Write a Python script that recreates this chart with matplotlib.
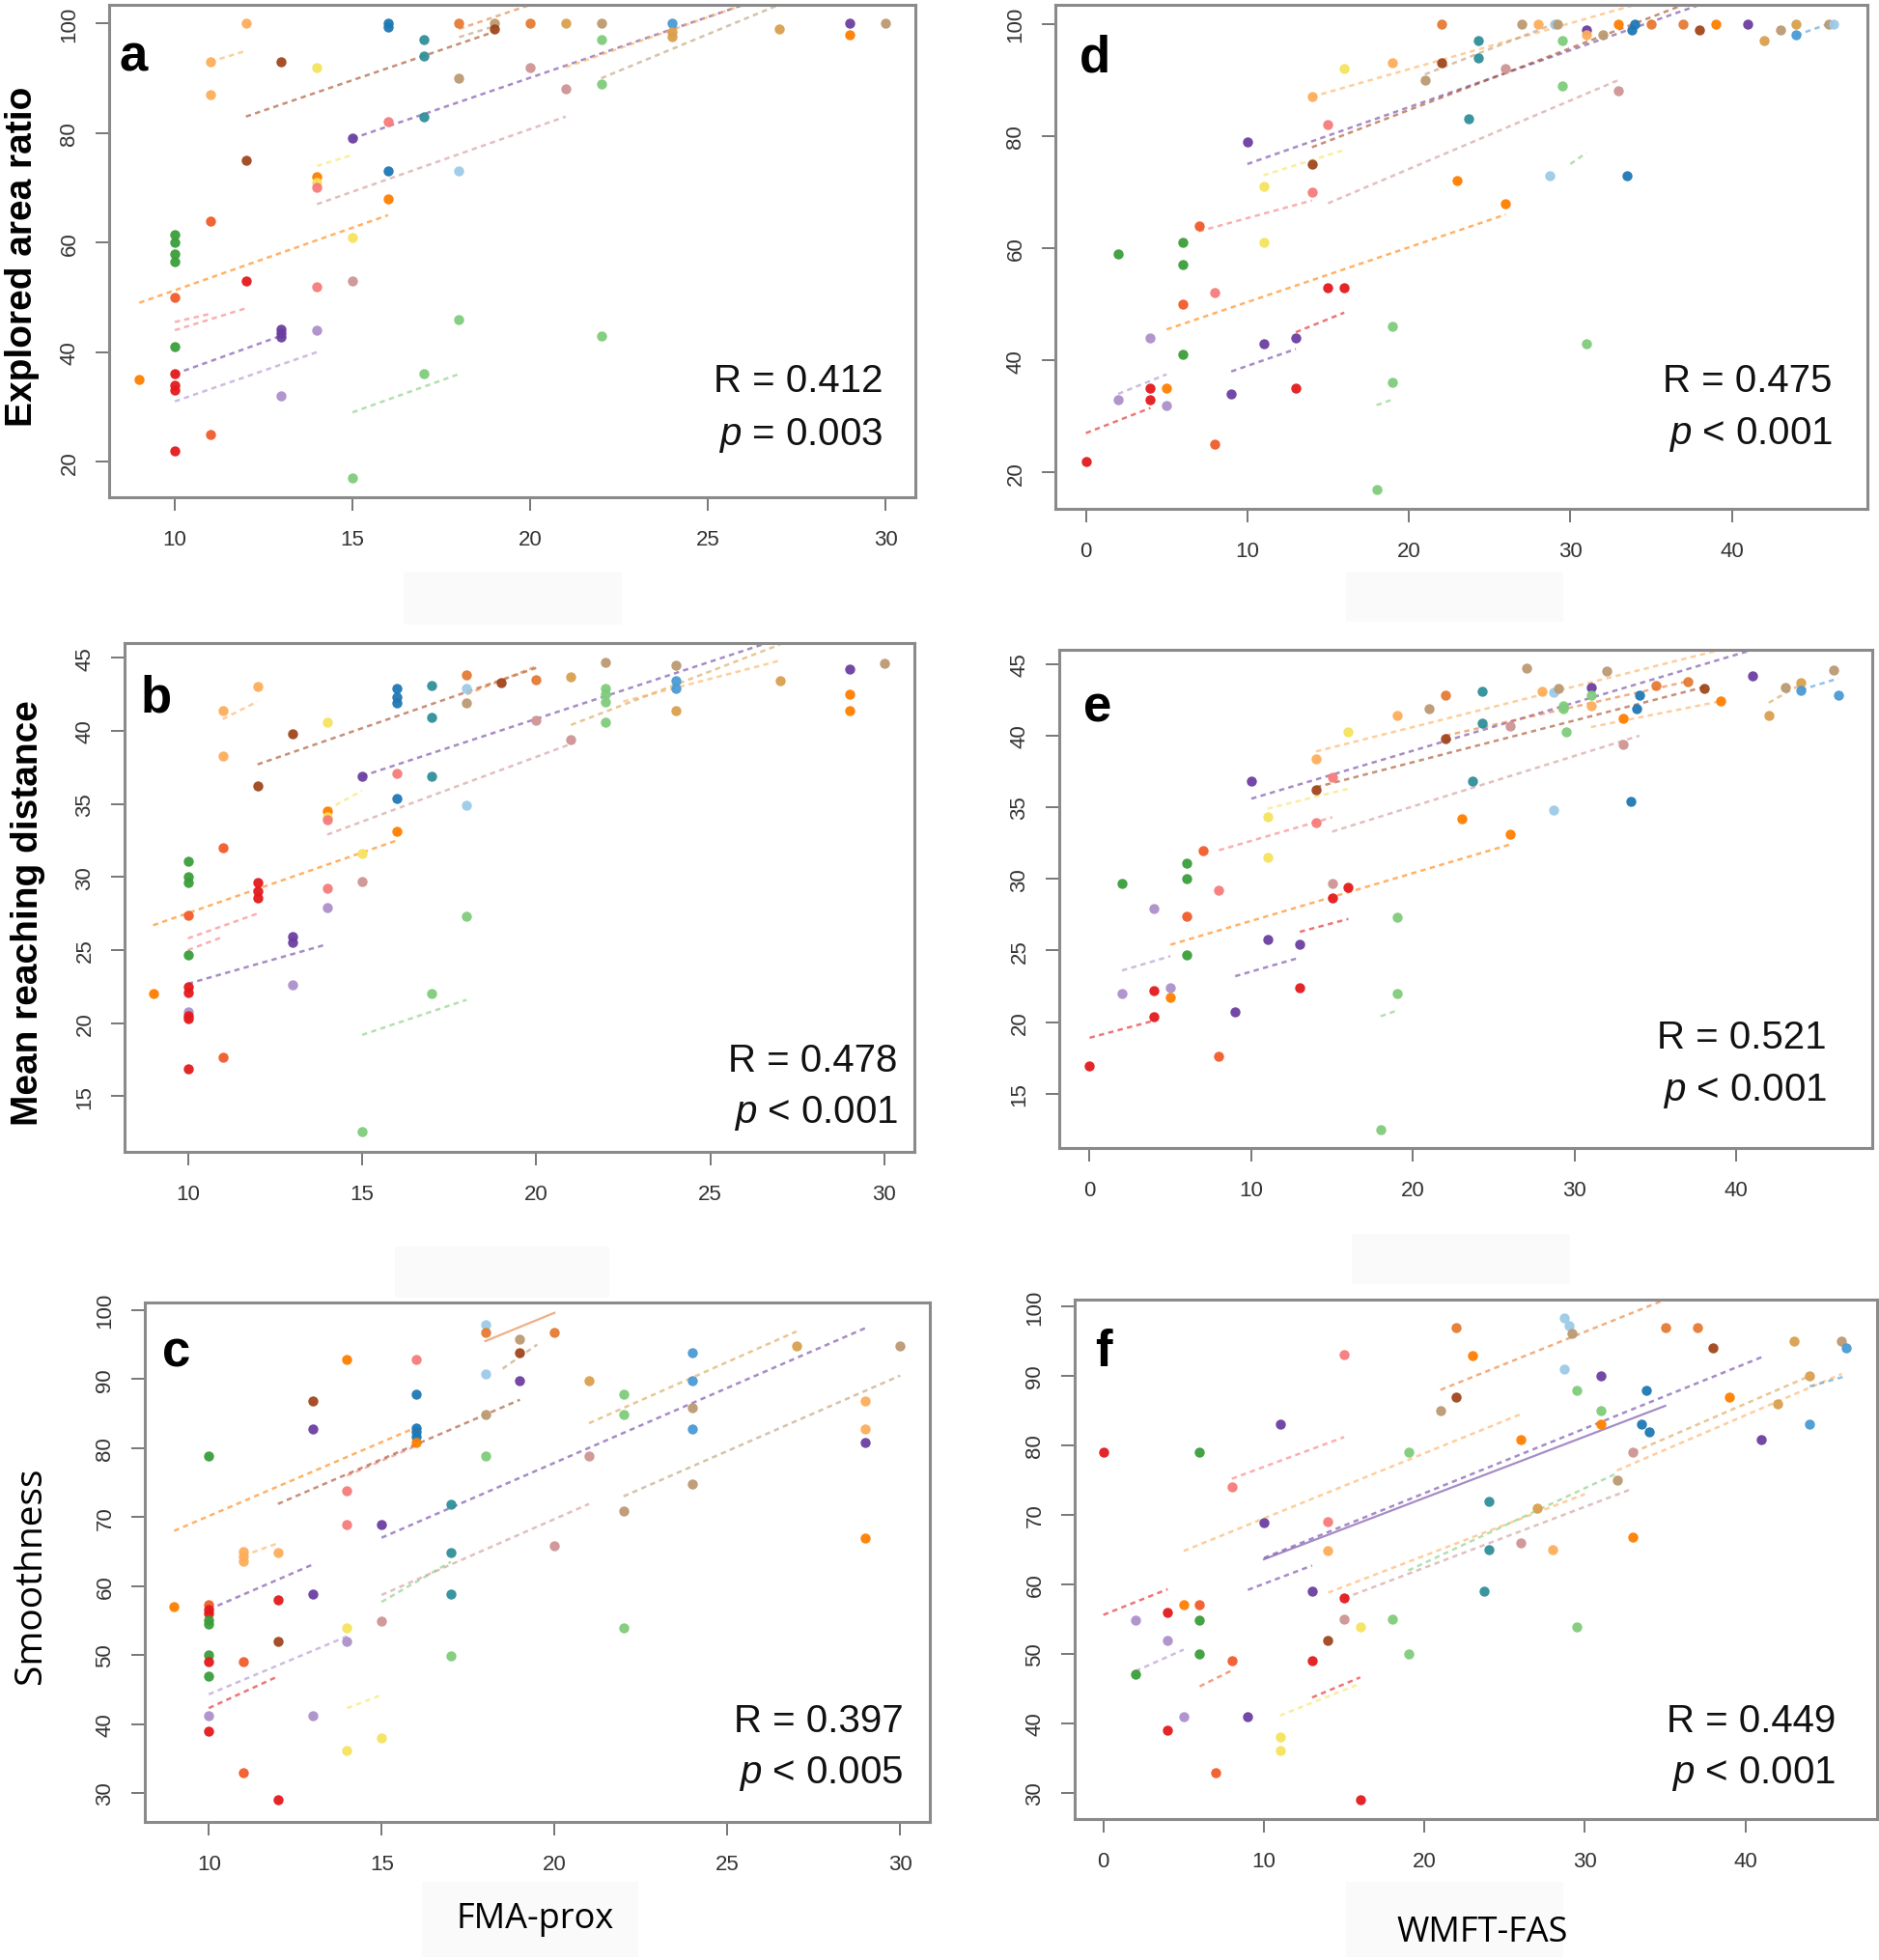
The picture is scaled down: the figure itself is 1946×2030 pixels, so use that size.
import matplotlib
matplotlib.use('Agg')
import matplotlib.pyplot as plt
from matplotlib.patches import Rectangle

# ------------------------------------------------------------
# subject colours (one colour per subject)
# ------------------------------------------------------------
COLORS = {
    'red': '#e41a1c', 'orred': '#f25c2a', 'orange': '#ff7f00',
    'lorange': '#fdae5b', 'dorange': '#e57a33', 'green': '#3a9e3a',
    'lgreen': '#80cc7a', 'purple': '#6b3fa0', 'lpurple': '#ad90cc',
    'blue': '#1f78b4', 'lblue': '#9ccbe8', 'sky': '#4a9ad4',
    'teal': '#2f8f99', 'brown': '#a0461c', 'tan': '#bb9a72',
    'gold': '#d9a04e', 'pink': '#f77b7b', 'dpink': '#cf9595',
    'yellow': '#f5e35d',
}

# ------------------------------------------------------------
# a: Explored area ratio vs FMA-prox
# ------------------------------------------------------------
A_PTS = [
    (9, 35, 'orange'),
    (10, 61.5, 'green'), (10, 60, 'green'), (10, 58, 'green'), (10, 56.5, 'green'),
    (10, 50, 'orred'), (10, 41, 'green'), (10, 36, 'red'), (10, 34, 'red'),
    (10, 33, 'red'), (10, 22, 'red'),
    (11, 93, 'lorange'), (11, 87, 'lorange'), (11, 64, 'orred'), (11, 25, 'orred'),
    (12, 100, 'lorange'), (12, 75, 'brown'), (12, 53, 'red'),
    (13, 93, 'brown'), (13, 44.2, 'purple'), (13, 43.5, 'purple'), (13, 42.7, 'purple'),
    (13, 32, 'lpurple'),
    (14, 92, 'yellow'), (14, 72, 'orange'), (14, 71, 'yellow'), (14, 70, 'pink'),
    (14, 52, 'pink'), (14, 44, 'lpurple'),
    (15, 79, 'purple'), (15, 61, 'yellow'), (15, 53, 'dpink'), (15, 17, 'lgreen'),
    (16, 100, 'blue'), (16, 99.3, 'blue'), (16, 82, 'pink'), (16, 73, 'blue'),
    (16, 68, 'orange'),
    (17, 97, 'teal'), (17, 94, 'teal'), (17, 83, 'teal'), (17, 36, 'lgreen'),
    (18, 100, 'dorange'), (18, 90, 'tan'), (18, 73, 'lblue'), (18, 46, 'lgreen'),
    (19, 100, 'tan'), (19, 99, 'brown'),
    (20, 100, 'dorange'), (20, 92, 'dpink'),
    (21, 100, 'gold'), (21, 88, 'dpink'),
    (22, 100, 'tan'), (22, 97, 'lgreen'), (22, 89, 'lgreen'), (22, 43, 'lgreen'),
    (24, 100, 'sky'), (24, 98.5, 'gold'), (24, 97.5, 'gold'),
    (27, 99, 'gold'),
    (29, 100, 'purple'), (29, 98, 'orange'),
    (30, 100, 'tan'),
]
A_FITS = [
    ('lorange', 11, 93, 12, 95), ('brown', 12, 83, 19, 98.5),
    ('dorange', 18, 99, 20, 103.4), ('tan', 18, 97.5, 19, 99.5),
    ('purple', 15, 79, 26, 103.4), ('lorange', 21, 92, 26, 103.4),
    ('tan', 22, 90, 27, 103.4), ('dpink', 14, 67, 21, 83),
    ('yellow', 14, 74, 15, 76), ('orange', 9, 49, 16, 65),
    ('pink', 10, 44, 12, 48), ('pink', 10, 45.5, 11, 47),
    ('purple', 10, 36, 13, 43), ('lpurple', 10, 31, 14, 40),
    ('lgreen', 15, 29, 18, 36),
]

# ------------------------------------------------------------
# b: Mean reaching distance vs FMA-prox
# ------------------------------------------------------------
B_PTS = [
    (9, 22, 'orange'),
    (10, 31.1, 'green'), (10, 30, 'green'), (10, 29.6, 'green'), (10, 27.4, 'orred'),
    (10, 24.7, 'green'), (10, 22.5, 'red'), (10, 22.1, 'red'), (10, 20.8, 'lpurple'),
    (10, 20.5, 'red'), (10, 20.3, 'red'), (10, 16.9, 'red'),
    (11, 41.4, 'lorange'), (11, 38.3, 'lorange'), (11, 32, 'orred'), (11, 17.7, 'orred'),
    (12, 43, 'lorange'), (12, 36.2, 'brown'), (12, 29.6, 'red'), (12, 29, 'red'),
    (12, 28.6, 'red'),
    (13, 39.8, 'brown'), (13, 25.9, 'purple'), (13, 25.5, 'purple'), (13, 22.6, 'lpurple'),
    (14, 40.6, 'yellow'), (14, 34.5, 'orange'), (14, 34.1, 'yellow'), (14, 33.9, 'pink'),
    (14, 29.2, 'pink'), (14, 27.9, 'lpurple'),
    (15, 36.9, 'purple'), (15, 31.6, 'yellow'), (15, 29.7, 'dpink'), (15, 12.6, 'lgreen'),
    (16, 42.9, 'blue'), (16, 42.3, 'blue'), (16, 41.9, 'blue'), (16, 37.1, 'pink'),
    (16, 35.4, 'blue'), (16, 33.1, 'orange'),
    (17, 43.1, 'teal'), (17, 40.9, 'teal'), (17, 36.9, 'teal'), (17, 22, 'lgreen'),
    (18, 43.8, 'dorange'), (18, 42.9, 'lblue'), (18, 41.9, 'tan'), (18, 34.9, 'lblue'),
    (18, 27.3, 'lgreen'),
    (19, 43.3, 'brown'),
    (20, 43.5, 'dorange'), (20, 40.7, 'dpink'),
    (21, 43.7, 'gold'), (21, 39.4, 'dpink'),
    (22, 44.7, 'tan'), (22, 42.9, 'lgreen'), (22, 42.5, 'lgreen'), (22, 42, 'lgreen'),
    (22, 40.6, 'lgreen'),
    (24, 44.5, 'tan'), (24, 43.4, 'sky'), (24, 42.9, 'sky'), (24, 41.4, 'gold'),
    (27, 43.4, 'gold'),
    (29, 44.2, 'purple'), (29, 42.5, 'orange'), (29, 41.4, 'orange'),
    (30, 44.6, 'tan'),
]
B_FITS = [
    ('lorange', 11, 40.8, 12, 42), ('brown', 12, 37.7, 20, 44.3),
    ('dorange', 18, 42.5, 20, 44.4), ('purple', 15, 36.9, 26.5, 45.9),
    ('gold', 21, 40.4, 27, 45.9), ('lorange', 22.5, 42, 27, 44.8),
    ('yellow', 14, 34.6, 15, 35.9), ('dpink', 14, 32.9, 21, 39.1),
    ('orange', 9, 26.7, 16, 32.5), ('pink', 10, 25.8, 12, 27.5),
    ('pink', 10, 25, 11, 25.9), ('purple', 10, 22.7, 14, 25.4),
    ('lgreen', 15, 19.2, 18, 21.6),
]

# ------------------------------------------------------------
# c: Smoothness vs FMA-prox
# ------------------------------------------------------------
C_PTS = [
    (9, 57, 'orange'),
    (10, 78.9, 'green'), (10, 57.3, 'orred'), (10, 56.6, 'red'), (10, 56, 'red'),
    (10, 55, 'green'), (10, 54.5, 'green'), (10, 50, 'green'), (10, 49.1, 'red'),
    (10, 47, 'green'), (10, 41.2, 'lpurple'), (10, 39, 'red'),
    (11, 65, 'lorange'), (11, 64.3, 'lorange'), (11, 63.6, 'lorange'), (11, 49.1, 'orred'),
    (11, 33, 'orred'),
    (12, 64.9, 'lorange'), (12, 58, 'red'), (12, 52, 'brown'), (12, 29, 'red'),
    (13, 86.8, 'brown'), (13, 82.8, 'purple'), (13, 58.9, 'purple'), (13, 41.2, 'lpurple'),
    (14, 92.8, 'orange'), (14, 73.8, 'pink'), (14, 68.9, 'pink'), (14, 54, 'yellow'),
    (14, 52, 'lpurple'), (14, 36.1, 'yellow'),
    (15, 68.9, 'purple'), (15, 54.9, 'dpink'), (15, 38, 'yellow'),
    (16, 92.8, 'pink'), (16, 87.8, 'blue'), (16, 82.9, 'blue'), (16, 82.3, 'blue'),
    (16, 81.6, 'blue'), (16, 80.8, 'orange'),
    (17, 71.9, 'teal'), (17, 64.9, 'teal'), (17, 58.9, 'teal'), (17, 49.9, 'lgreen'),
    (18, 97.9, 'lblue'), (18, 96.8, 'dorange'), (18, 90.8, 'lblue'), (18, 84.9, 'tan'),
    (18, 78.9, 'lgreen'),
    (19, 95.8, 'tan'), (19, 93.8, 'brown'), (19, 89.7, 'purple'),
    (20, 96.8, 'dorange'), (20, 65.8, 'dpink'),
    (21, 89.7, 'gold'), (21, 78.9, 'dpink'),
    (22, 87.8, 'lgreen'), (22, 84.9, 'lgreen'), (22, 70.9, 'tan'), (22, 53.9, 'lgreen'),
    (24, 93.8, 'sky'), (24, 89.7, 'sky'), (24, 85.8, 'tan'), (24, 82.8, 'sky'),
    (24, 74.8, 'tan'),
    (27, 94.8, 'gold'),
    (29, 86.8, 'lorange'), (29, 82.8, 'lorange'), (29, 80.8, 'purple'), (29, 66.9, 'orange'),
    (30, 94.8, 'tan'),
]
C_FITS = [
    ('orange', 9, 68, 16, 83), ('pink', 14, 76, 16, 80.3),
    ('brown', 12, 71.9, 19, 87), ('purple', 15, 67, 29, 97.4),
    ('gold', 21, 83.6, 27, 96.9), ('tan', 22, 73, 30, 90.5),
    ('dpink', 15, 58.7, 21, 71.9), ('lgreen', 15, 57.7, 17, 63.5),
    ('purple', 10, 56.6, 13, 63.1), ('lorange', 11, 64.4, 12, 66.2),
    ('lpurple', 10, 44.3, 14, 52.7), ('red', 10, 42.3, 12, 46.9),
    ('yellow', 14, 42.3, 15, 44.2), ('tan', 18.5, 91.5, 19.5, 95),
]
C_SOLID = [('dorange', 18, 95.5, 20, 99.6)]

# ------------------------------------------------------------
# d: Explored area ratio vs WMFT-FAS
# ------------------------------------------------------------
D_PTS = [
    (0, 22, 'red'), (2, 33, 'lpurple'), (2, 59, 'green'), (4, 35, 'red'), (4, 33, 'red'),
    (4, 44, 'lpurple'), (5, 35, 'orange'), (5, 32, 'lpurple'),
    (6, 61, 'green'), (6, 57, 'green'), (6, 41, 'green'), (6, 50, 'orred'), (7, 64, 'orred'),
    (8, 52, 'pink'), (8, 25, 'orred'),
    (9, 34, 'purple'), (10, 79, 'purple'), (11, 71, 'yellow'), (11, 61, 'yellow'),
    (11, 43, 'purple'), (13, 44, 'purple'), (13, 35, 'red'),
    (14, 87, 'lorange'), (14, 75, 'brown'), (14, 70, 'pink'), (15, 82, 'pink'),
    (15, 53, 'red'), (16, 53, 'red'), (16, 92, 'yellow'),
    (19, 93, 'lorange'), (19, 46, 'lgreen'), (19, 36, 'lgreen'), (18, 17, 'lgreen'),
    (21, 90, 'tan'), (22, 100, 'dorange'), (22, 93, 'brown'),
    (23, 72, 'orange'), (23.7, 83, 'teal'), (24.3, 97, 'teal'), (24.3, 94, 'teal'),
    (26, 92, 'dpink'), (26, 68, 'orange'), (27, 100, 'tan'),
    (28, 100, 'lorange'), (28.7, 73, 'lblue'), (29, 100, 'lblue'), (29.2, 100, 'tan'),
    (29.5, 97, 'lgreen'), (29.5, 89, 'lgreen'), (31, 43, 'lgreen'),
    (31, 99, 'purple'), (31, 98, 'lorange'), (32, 98, 'tan'), (33, 88, 'dpink'),
    (33.5, 73, 'blue'), (33, 100, 'orange'), (34, 100, 'blue'), (33.8, 99, 'blue'),
    (35, 100, 'dorange'), (37, 100, 'dorange'), (38, 99, 'brown'), (39, 100, 'orange'),
    (41, 100, 'purple'), (42, 97, 'gold'), (43, 99, 'tan'), (44, 100, 'gold'),
    (44, 98, 'sky'), (46, 100, 'tan'), (46.3, 100, 'lblue'),
]
D_FITS = [
    ('red', 0, 27, 4, 31.5), ('lpurple', 2, 34, 5, 37.5),
    ('orange', 5, 45.5, 26, 66), ('purple', 9, 38, 13, 42),
    ('red', 13, 45, 16, 48.5), ('pink', 7, 63, 14, 68.5),
    ('yellow', 11, 73, 16, 77.5), ('dpink', 15, 68, 33, 90),
    ('lgreen', 30, 75, 31, 77), ('lgreen', 18, 32, 19, 33),
    ('purple', 10, 75, 38, 103.4), ('brown', 14, 78, 37, 103.4),
    ('lorange', 14, 87, 34, 103.4), ('tan', 21, 91, 29, 100),
    ('sky', 44, 98, 46, 100),
]

# ------------------------------------------------------------
# e: Mean reaching distance vs WMFT-FAS
# ------------------------------------------------------------
E_PTS = [
    (0, 16.9, 'red'), (2, 22, 'lpurple'), (2, 29.7, 'green'), (4, 22.2, 'red'),
    (4, 20.4, 'red'), (4, 27.9, 'lpurple'), (5, 22.4, 'lpurple'), (5, 21.7, 'orange'),
    (6, 31.1, 'green'), (6, 30, 'green'), (6, 24.7, 'green'), (6, 27.4, 'orred'),
    (7, 32, 'orred'), (8, 29.2, 'pink'), (8, 17.6, 'orred'), (9, 20.7, 'purple'),
    (10, 36.8, 'purple'), (11, 34.3, 'yellow'), (11, 31.5, 'yellow'), (11, 25.8, 'purple'),
    (13, 25.4, 'purple'), (13, 22.4, 'red'),
    (14, 38.4, 'lorange'), (14, 36.2, 'brown'), (14, 33.9, 'pink'), (15, 37.1, 'pink'),
    (15, 29.7, 'dpink'), (15, 28.7, 'red'), (16, 29.4, 'red'), (16, 40.3, 'yellow'),
    (19, 41.4, 'lorange'), (19, 27.3, 'lgreen'), (19, 22, 'lgreen'), (18, 12.5, 'lgreen'),
    (21, 41.9, 'tan'), (22, 42.8, 'dorange'), (22, 39.8, 'brown'),
    (23, 34.2, 'orange'), (23.7, 36.8, 'teal'), (24.3, 43.1, 'teal'), (24.3, 40.9, 'teal'),
    (26, 40.7, 'dpink'), (26, 33.1, 'orange'), (27, 44.7, 'tan'),
    (28, 43.1, 'lorange'), (28.7, 34.8, 'lblue'), (28.7, 43, 'lblue'), (29, 43.3, 'tan'),
    (29.3, 42.1, 'lgreen'), (29.3, 41.9, 'lgreen'), (29.5, 40.3, 'lgreen'),
    (31, 43.4, 'purple'), (31, 42.8, 'lgreen'), (31, 42.1, 'lorange'), (32, 44.5, 'tan'),
    (33, 39.4, 'dpink'), (33, 41.2, 'orange'), (33.5, 35.4, 'blue'),
    (33.8, 41.9, 'blue'), (34, 42.8, 'blue'), (35, 43.5, 'dorange'), (37, 43.8, 'dorange'),
    (38, 43.3, 'brown'), (39, 42.4, 'orange'), (41, 44.2, 'purple'),
    (42, 41.4, 'gold'), (43, 43.4, 'tan'), (44, 43.7, 'gold'), (44, 43.2, 'sky'),
    (46, 44.6, 'tan'), (46.3, 42.8, 'sky'),
]
E_FITS = [
    ('red', 0, 18.9, 4, 20.1), ('lpurple', 2, 23.6, 5, 24.6),
    ('orange', 5, 25.4, 26, 32.4), ('red', 13, 26.3, 16, 27.2),
    ('purple', 9, 23.2, 13, 24.5), ('pink', 8, 32, 15, 34.3),
    ('yellow', 11, 34.9, 16, 36.3), ('dpink', 15, 33.3, 34, 40),
    ('purple', 10, 35.6, 41, 46), ('brown', 14, 36.4, 38, 43.4),
    ('lorange', 14, 38.9, 39, 46), ('dorange', 22, 40, 37, 43.8),
    ('lorange', 31, 40.6, 39, 42.4), ('lgreen', 18, 20.4, 19, 20.8),
    ('sky', 44, 43.2, 46.3, 44), ('gold', 42, 42.3, 44, 43.6),
]

# ------------------------------------------------------------
# f: Smoothness vs WMFT-FAS
# ------------------------------------------------------------
F_PTS = [
    (0, 79, 'red'), (2, 54.9, 'lpurple'), (2, 47, 'green'), (4, 56, 'red'), (4, 39, 'red'),
    (4, 51.9, 'lpurple'), (5, 57, 'orange'), (5, 41, 'lpurple'),
    (6, 57, 'orred'), (6, 54.9, 'green'), (6, 50, 'green'), (6, 79, 'green'),
    (7, 32.9, 'orred'), (8, 74, 'pink'), (8, 49, 'orred'), (9, 41, 'purple'),
    (10, 68.9, 'purple'), (11, 83, 'purple'), (11, 38, 'yellow'), (11, 36.1, 'yellow'),
    (13, 59, 'purple'), (13, 49, 'red'), (14, 69, 'pink'), (14, 64.9, 'lorange'),
    (14, 51.9, 'brown'), (15, 93.1, 'pink'), (15, 58, 'red'), (15, 55, 'dpink'),
    (16, 53.9, 'yellow'), (16, 29, 'red'), (18, 55, 'lgreen'), (19, 79, 'lgreen'),
    (19, 50, 'lgreen'),
    (21, 85, 'tan'), (22, 97, 'dorange'), (22, 87, 'brown'), (23, 93, 'orange'),
    (24, 72, 'teal'), (24, 65, 'teal'), (23.7, 59, 'teal'), (26, 80.9, 'orange'),
    (26, 65.9, 'dpink'),
    (27, 71, 'gold'), (28, 65, 'lorange'), (28.7, 98.3, 'lblue'), (29, 97.2, 'lblue'),
    (29.2, 96.1, 'tan'), (28.7, 91, 'lblue'), (29.5, 88, 'lgreen'), (29.5, 53.9, 'lgreen'),
    (31, 90, 'purple'), (31, 85, 'lgreen'), (31, 83, 'orange'), (32, 75, 'tan'),
    (33, 79, 'dpink'), (33, 66.8, 'orange'), (33.5, 83, 'blue'), (33.8, 88, 'blue'),
    (34, 82, 'blue'),
    (35, 97, 'dorange'), (37, 97, 'dorange'), (38, 94, 'brown'), (39, 87, 'orange'),
    (41, 80.9, 'purple'), (42, 86, 'gold'), (43, 95, 'gold'), (44, 83, 'sky'),
    (44, 90, 'gold'), (46, 95, 'tan'), (46.3, 94, 'sky'),
]
F_FITS = [
    ('red', 0, 55.6, 4, 59.3), ('lpurple', 2, 47.5, 5, 50.6),
    ('orred', 6, 45.3, 8, 47.6), ('lorange', 5, 64.8, 26, 84.5),
    ('pink', 8, 75.2, 15, 81.2), ('purple', 10, 63.8, 41, 92.7),
    ('purple', 9, 59.2, 13, 62.7), ('red', 13, 43.7, 16, 46.6),
    ('yellow', 11, 41.1, 16, 45.7), ('dorange', 21, 88, 35, 101),
    ('lorange', 14, 58.8, 30, 73), ('dpink', 15, 58, 33, 73.8),
    ('lgreen', 19, 62, 32, 76), ('lorange', 32, 76.4, 46, 90.3),
    ('gold', 33, 79, 44, 90), ('sky', 44, 88.5, 46.3, 90),
]
F_SOLID = [('purple', 10, 63.6, 35, 85.7)]

STATS = {
    'a': ('0.412', '=', '0.003'), 'b': ('0.478', '<', '0.001'),
    'c': ('0.397', '<', '0.005'), 'd': ('0.475', '<', '0.001'),
    'e': ('0.521', '<', '0.001'), 'f': ('0.449', '<', '0.001'),
}

# ------------------------------------------------------------
# layout (pixel boxes in a 1946 x 2031 canvas)
# ------------------------------------------------------------
plt.rcParams['mathtext.fontset'] = 'custom'
plt.rcParams['mathtext.it'] = 'Liberation Sans:italic'

W, H = 1946, 2031
fig = plt.figure(figsize=(W / 100, H / 100), dpi=100)
fig.patch.set_facecolor('white')

NARROW = ['Liberation Sans Narrow', 'Liberation Sans', 'DejaVu Sans']


def px_axes(x0, y0, x1, y1):
    return fig.add_axes([x0 / W, 1 - y1 / H, (x1 - x0) / W, (y1 - y0) / H])


panels = [
    # key, box, xlim, ylim, yticks, xticks, pts, fits, solid, letter pos, stat pos
    ('a', (113, 6, 948, 516), (8.15, 30.84), (13.5, 103.4), [20, 40, 60, 80, 100],
     [10, 15, 20, 25, 30], A_PTS, A_FITS, [], (0.012, 0.895), (0.960, 0.237, 0.127)),
    ('d', (1093, 6, 1934, 528), (-1.89, 48.4), (13.5, 103.4), [20, 40, 60, 80, 100],
     [0, 10, 20, 30, 40], D_PTS, D_FITS, [], (0.03, 0.895), (0.957, 0.255, 0.149)),
    ('b', (129, 667, 947, 1194), (8.18, 30.86), (11.2, 46.0), [15, 20, 25, 30, 35, 40, 45],
     [10, 15, 20, 25, 30], B_PTS, B_FITS, [], (0.02, 0.893), (0.979, 0.18, 0.078)),
    ('e', (1097, 674, 1939, 1190), (-1.88, 48.4), (11.2, 46.0), [15, 20, 25, 30, 35, 40, 45],
     [0, 10, 20, 30, 40], E_PTS, E_FITS, [], (0.03, 0.885), (0.944, 0.223, 0.116)),
    ('c', (150, 1350, 963, 1888), (8.15, 30.86), (25.8, 101.1), [30, 40, 50, 60, 70, 80, 90, 100],
     [10, 15, 20, 25, 30], C_PTS, C_FITS, C_SOLID, (0.022, 0.905), (0.966, 0.195, 0.095)),
    ('f', (1113, 1347, 1944, 1885), (-1.79, 48.2), (26.2, 101.0), [30, 40, 50, 60, 70, 80, 90, 100],
     [0, 10, 20, 30, 40], F_PTS, F_FITS, F_SOLID, (0.025, 0.9), (0.948, 0.19, 0.09)),
]

for key, box, xlim, ylim, yticks, xticks, pts, fits, solid, lpos, spos in panels:
    ax = px_axes(*box)
    # per-subject regression segments
    for subj, x0, y0, x1, y1 in fits:
        ax.plot([x0, x1], [y0, y1], color=COLORS[subj], lw=1.8, alpha=0.6,
                linestyle=(0, (2.2, 1.8)), zorder=2)
    for subj, x0, y0, x1, y1 in solid:
        ax.plot([x0, x1], [y0, y1], color=COLORS[subj], lw=1.6, alpha=0.6, zorder=2)
    # sessions
    for x, y, subj in pts:
        ax.plot(x, y, 'o', ms=7.5, color=COLORS[subj], mec='none', alpha=0.95, zorder=3)

    ax.set_xlim(*xlim)
    ax.set_ylim(*ylim)
    ax.set_xticks(xticks)
    ax.set_yticks(yticks)
    ax.set_xticklabels([str(t) for t in xticks], family=NARROW, fontsize=16, color='#333333')
    ax.set_yticklabels([str(t) for t in yticks], family=NARROW, fontsize=16, color='#333333',
                       rotation=90, va='center')
    ax.tick_params(axis='both', direction='out', length=10, width=1.4, color='#777777')
    ax.tick_params(axis='x', pad=14)
    ax.tick_params(axis='y', pad=12)
    for sp in ax.spines.values():
        sp.set_color('#8a8a8a')
        sp.set_linewidth(2.2)

    ax.text(lpos[0], lpos[1], key, transform=ax.transAxes, ha='left', va='center',
            fontsize=38, fontweight='bold', family='Liberation Sans', color='black')
    r_val, op, p_val = STATS[key]
    ax.text(spos[0], spos[1], f'R = {r_val}', transform=ax.transAxes, ha='right',
            va='center', fontsize=29, family='Liberation Sans', color='#111111')
    ax.text(spos[0], spos[2], f'$\\mathit{{p}}$ {op} {p_val}', transform=ax.transAxes,
            ha='right', va='center', fontsize=29, family='Liberation Sans', color='#111111')

# faint patches left by the original layout
for (x0, y0, x1, y1) in [(418, 593, 644, 648), (1394, 593, 1619, 645),
                         (409, 1292, 631, 1345), (1400, 1279, 1626, 1331),
                         (437, 1950, 661, 2028), (1394, 1950, 1619, 2028)]:
    fig.patches.append(Rectangle((x0 / W, 1 - y1 / H), (x1 - x0) / W, (y1 - y0) / H,
                                 transform=fig.transFigure, facecolor='#fafafa',
                                 edgecolor='none', zorder=0))

# axis titles
fig.text(23 / W, 1 - 266 / H, 'Explored area ratio', rotation=90, ha='center', va='center',
         fontsize=28, fontweight='bold', family='Liberation Sans')
fig.text(29 / W, 1 - 946 / H, 'Mean reaching distance', rotation=90, ha='center', va='center',
         fontsize=28, fontweight='bold', family='Liberation Sans')
fig.text(32 / W, 1 - 1632 / H, 'Smoothness', rotation=90, ha='center', va='center',
         fontsize=28, family='Open Sans')
fig.text(554 / W, 1 - 1988 / H, 'FMA-prox', ha='center', va='center',
         fontsize=26, family='Open Sans')
fig.text(1535 / W, 1 - 2002 / H, 'WMFT-FAS', ha='center', va='center',
         fontsize=26, family='Open Sans')

fig.savefig('out.png', dpi=100, facecolor='white')
